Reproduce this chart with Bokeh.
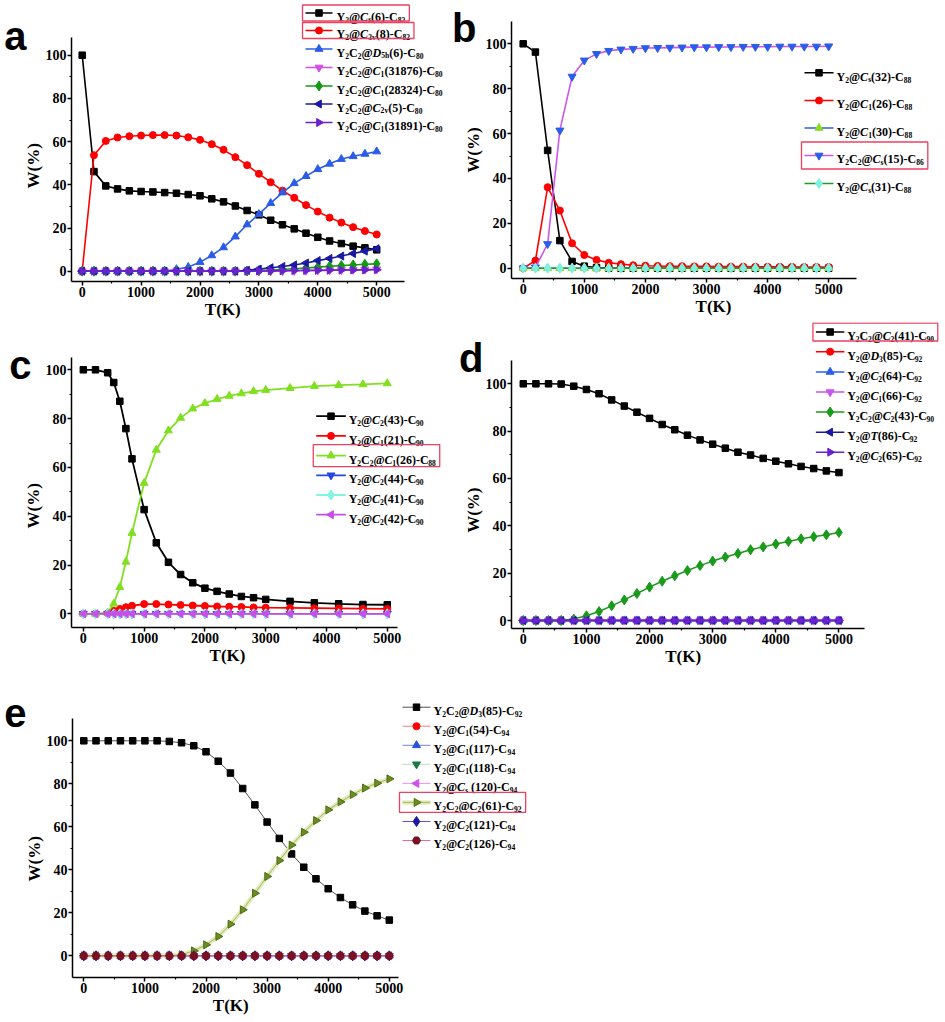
import math
from bokeh.plotting import figure
from bokeh.models import FixedTicker, Title, LinearAxis
from bokeh.layouts import column, row
from bokeh.embed import file_html
from bokeh.resources import INLINE
from bokeh.core.properties import value

SERIF = "Liberation Serif"
SANS = "Liberation Sans"

# ---------------- data ----------------
T26 = [0, 200, 400, 600, 800, 1000, 1200, 1400, 1600, 1800, 2000, 2200, 2400,
       2600, 2800, 3000, 3200, 3400, 3600, 3800, 4000, 4200, 4400, 4600, 4800, 5000]
T23 = [0, 200, 400, 500, 600, 700, 800, 1000, 1200, 1400, 1600, 1800, 2000, 2200,
       2400, 2600, 2800, 3000, 3400, 3800, 4200, 4600, 5000]
ZERO26 = [0, 0, 0, 0, 0, 0, 0, 0, 0, 0, 0, 0, 0, 0, 0, 0, 0, 0, 0, 0, 0, 0, 0, 0, 0, 0]
ZERO23 = [0, 0, 0, 0, 0, 0, 0, 0, 0, 0, 0, 0, 0, 0, 0, 0, 0, 0, 0, 0, 0, 0, 0]

TICK_T = [0, 1000, 2000, 3000, 4000, 5000]
MINOR_T = [500, 1500, 2500, 3500, 4500]
TICK_W = [0, 20, 40, 60, 80, 100]
MINOR_W = [10, 30, 50, 70, 90]
X_TITLE = "T(K)"
Y_TITLE = "W(%)"

# panel a
A_LABELS = ["Y_{2}@/C/_{s}(6)-C_{82}", "Y_{2}@/C/_{3v}(8)-C_{82}",
            "Y_{2}C_{2}@/D/_{5h}(6)-C_{80}", "Y_{2}C_{2}@/C/_{1}(31876)-C_{80}",
            "Y_{2}C_{2}@/C/_{1}(28324)-C_{80}", "Y_{2}C_{2}@/C/_{2v}(5)-C_{80}",
            "Y_{2}C_{2}@/C/_{1}(31891)-C_{80}"]
A_CS6 = [100, 46.1, 39.5, 38.1, 37.2, 36.9, 36.7, 36.4, 36.1, 35.5, 34.9, 33.5, 32.1,
         30.2, 28.1, 26.1, 23.6, 21.5, 19.6, 17.6, 15.7, 14.0, 12.8, 11.6, 10.8, 9.9]
A_C3V8 = [0, 53.7, 60.3, 61.9, 62.5, 62.8, 63.0, 63.0, 62.8, 62.0, 60.8, 58.8, 56.2,
          52.8, 49.1, 45.1, 41.2, 37.3, 34.0, 30.6, 27.6, 24.8, 22.5, 20.4, 18.6, 17.0]
A_D5H6 = [0, 0, 0, 0, 0, 0, 0, 0, 0.9, 1.9, 4.2, 7.3, 11.0,
          16.0, 21.6, 26.4, 31.5, 36.4, 40.7, 44.0, 47.2, 49.7, 51.9, 53.2, 54.3, 55.4]
A_C31876 = [0, 0, 0, 0, 0, 0, 0, 0, 0, 0, 0, 0, 0,
            0, 0, 0, 0, 0.1, 0.2, 0.3, 0.4, 0.5, 0.6, 0.7, 0.8, 0.9]
A_C28324 = [0, 0, 0, 0, 0, 0, 0, 0, 0, 0, 0, 0, 0,
            0, 0.1, 0.3, 0.5, 0.8, 1.1, 1.5, 1.9, 2.3, 2.6, 2.9, 3.2, 3.4]
A_C2V5 = [0, 0, 0, 0, 0, 0, 0, 0, 0, 0, 0, 0, 0,
          0, 0.4, 1.0, 1.6, 2.2, 2.9, 3.8, 4.9, 5.9, 7.0, 8.2, 9.3, 10.4]
A_C31891 = [0, 0, 0, 0, 0, 0, 0, 0, 0, 0, 0, 0, 0,
            0, 0, 0.1, 0.15, 0.2, 0.3, 0.35, 0.4, 0.45, 0.5, 0.55, 0.6, 0.65]

# panel b
B_LABELS = ["Y_{2}@/C/_{s}(32)-C_{88}", "Y_{2}@/C/_{1}(26)-C_{88}", "Y_{2}@/C/_{1}(30)-C_{88}",
            "Y_{2}C_{2}@/C/_{s}(15)-C_{86}", "Y_{2}@/C/_{s}(31)-C_{88}"]
B_CS32 = [100, 96.3, 52.5, 12.3, 3.0, 0.9, 0.3, 0.1, 0, 0, 0, 0, 0,
          0, 0, 0, 0, 0, 0, 0, 0, 0, 0, 0, 0, 0]
B_C1_26 = [0, 3.4, 36.1, 25.7, 11.1, 5.9, 3.7, 2.4, 1.8, 1.3, 1.1, 1.0, 0.9,
           0.9, 0.8, 0.8, 0.7, 0.7, 0.7, 0.6, 0.6, 0.6, 0.6, 0.5, 0.5, 0.5]
B_C1_30 = ZERO26
B_CS15 = [0, 0.4, 10.8, 61.4, 85.4, 92.6, 95.5, 96.9, 97.5, 97.8, 98.1, 98.2, 98.3,
          98.4, 98.5, 98.5, 98.6, 98.6, 98.7, 98.7, 98.7, 98.8, 98.8, 98.8, 98.8, 98.9]
B_CS31 = ZERO26

# panel c
C_LABELS = ["Y_{2}@/C/_{2}(43)-C_{90}", "Y_{2}@/C/_{1}(21)-C_{90}", "Y_{2}C_{2}@/C/_{1}(26)-C_{88}",
            "Y_{2}@/C/_{2}(44)-C_{90}", "Y_{2}@/C/_{2}(41)-C_{90}", "Y_{2}@/C/_{2}(42)-C_{90}"]
C_C2_43 = [100, 100, 98.8, 94.8, 87.1, 75.9, 63.5, 42.7, 29.1, 21.1, 16.1, 12.7,
           10.5, 9.2, 8.1, 7.1, 6.6, 5.9, 5.1, 4.5, 4.1, 3.8, 3.7]
C_C1_21 = [0, 0, 0.2, 1.2, 2.0, 2.7, 3.3, 4.0, 4.0, 3.8, 3.6, 3.4,
           3.2, 3.0, 2.9, 2.8, 2.6, 2.5, 2.4, 2.3, 2.2, 2.1, 2.0]
C_C1_26 = [0, 0, 0.5, 4.1, 10.9, 21.3, 33.1, 53.6, 67.2, 75.1, 80.3, 84.1,
           86.3, 88.0, 89.3, 90.3, 91.2, 91.7, 92.5, 93.3, 93.7, 94.0, 94.4]
C_C2_44 = ZERO23
C_C2_41 = ZERO23
C_C2_42 = ZERO23

# panel d
D_LABELS = ["Y_{2}C_{2}@/C/_{2}(41)-C_{90}", "Y_{2}@/D/_{3}(85)-C_{92}", "Y_{2}@/C/_{2}(64)-C_{92}",
            "Y_{2}@/C/_{1}(66)-C_{92}", "Y_{2}C_{2}@/C/_{2}(43)-C_{90}", "Y_{2}@/T/(86)-C_{92}",
            "Y_{2}@/C/_{2}(65)-C_{92}"]
D_C2_41 = [100, 100, 100, 99.9, 99.0, 97.6, 95.8, 93.2, 90.6, 88.0, 85.4, 82.8, 80.6,
           78.3, 76.3, 74.5, 72.8, 71.1, 69.9, 68.5, 67.3, 66.2, 65.1, 64.2, 63.2, 62.5]
D_D3_85 = ZERO26
D_C2_64 = ZERO26
D_C1_66 = ZERO26
D_C2_43 = [0, 0, 0, 0, 0.6, 2.0, 3.8, 6.2, 8.7, 11.4, 14.1, 16.6, 18.9,
           21.1, 23.2, 25.1, 26.8, 28.3, 29.9, 31.1, 32.3, 33.4, 34.5, 35.4, 36.2, 37.2]
D_T86 = ZERO26
D_C2_65 = ZERO26

# panel e
E_LABELS = ["Y_{2}C_{2}@/D/_{3}(85)-C_{92}", "Y_{2}@/C/_{1}(54)-C_{94}", "Y_{2}@/C/_{1}(117)-C_{94}",
            "Y_{2}@/C/_{1}(118)-C_{94}", "Y_{2}@/C/_{s} (120)-C_{94}", "Y_{2}C_{2}@/C/_{2}(61)-C_{92}",
            "Y_{2}@/C/_{2}(121)-C_{94}", "Y_{2}@/C/_{2}(126)-C_{94}"]
E_D3_85 = [100, 100, 100, 100, 100, 100, 100, 99.7, 99.1, 97.7, 94.9, 90.5, 85.0,
           77.8, 70.2, 62.2, 54.6, 47.4, 41.2, 35.8, 31.2, 27.1, 23.7, 20.8, 18.6, 16.6]
E_C1_54 = ZERO26
E_C1_117 = ZERO26
E_C1_118 = ZERO26
E_CS_120 = ZERO26
E_C2_61 = [0, 0, 0, 0, 0, 0, 0, 0, 0.5, 2.3, 5.1, 9.0, 14.7,
           21.4, 29.1, 36.9, 44.3, 51.5, 57.5, 62.9, 67.9, 71.6, 75.0, 78.0, 80.3, 82.3]
E_C2_121 = ZERO26
E_C2_126 = ZERO26

# ---------------- geometry (pixel positions in the page) ----------------
# letter=(tick value on W scale, label standoff), ylab/xlab = title centres in page px
GEOM = {
    "a": dict(fig=(0, 0, 445, 330), axl=70.7, axb=280.7, x0=81.7, xs=0.0589, y0=270.7, ys=2.16,
              xend=5480, ytop=108.2, letter=(109, -5), ylab=165, xlab=222),
    "b": dict(fig=(445, 0, 499, 322), axl=511, axb=278.5, x0=522.7, xs=0.0611, y0=267.7, ys=2.244,
              xend=5450, ytop=110, letter=(107, -15), ylab=150, xlab=713),
    "c": dict(fig=(0, 330, 445, 350), axl=66, axb=626.7, x0=78, xs=0.0616, y0=613.3, ys=2.44,
              xend=5170, ytop=105.2, letter=(102, -10), ylab=505, xlab=222),
    "d": dict(fig=(445, 322, 499, 358), axl=503.3, axb=628.3, x0=515, xs=0.0643, y0=620, ys=2.367,
              xend=5400, ytop=110, letter=(111, -22), ylab=510, xlab=675),
    "e": dict(fig=(0, 680, 560, 341), axl=71.7, axb=976.7, x0=83.3, xs=0.0611, y0=955.3, ys=2.15,
              xend=5150, ytop=110.2, letter=(113, -4), ylab=858, xlab=230),
}

MK = {"sq": ("square", 0.0, 6.5), "ci": ("circle", 0.0, 7), "tu": ("triangle", 0.0, 8),
      "td": ("inverted_triangle", 0.0, 8), "di": ("diamond", 0.0, 10),
      "tl": ("triangle", math.pi / 2, 8), "tr": ("triangle", -math.pi / 2, 8), "hx": ("hex", 0.0, 8)}

# Times/Liberation Serif Bold advance widths (1/1000 em)
W_B = {" ": 250, "(": 333, ")": 333, "-": 333, "@": 930, "C": 722, "D": 722, "T": 667,
       "Y": 722, "s": 389, "v": 500, "h": 556, "W": 1000, "%": 1000, "K": 778}
for _d in "0123456789":
    W_B[_d] = 500
W_BI = {"C": 667, "D": 722, "T": 611}
TITLE_PX = 17


def parse(lbl):
    segs, buf, i = [], "", 0
    while i < len(lbl):
        ch = lbl[i]
        if ch == "_" and i + 1 < len(lbl) and lbl[i + 1] == "{":
            if buf:
                segs.append((buf, "n"))
                buf = ""
            j = lbl.index("}", i)
            segs.append((lbl[i + 2:j], "s"))
            i = j + 1
            continue
        if ch == "/":
            if buf:
                segs.append((buf, "n"))
                buf = ""
            j = lbl.index("/", i + 1)
            segs.append((lbl[i + 1:j], "i"))
            i = j + 1
            continue
        buf += ch
        i += 1
    if buf:
        segs.append((buf, "n"))
    return segs


def seg_width(txt, kind, S, SUB):
    if kind == "i":
        return sum(W_BI.get(c, W_B.get(c, 600)) for c in txt) * S / 1000.0
    if kind == "s":
        return sum(W_B.get(c, 500) for c in txt) * SUB / 1000.0
    return sum(W_B.get(c, 600) for c in txt) * S / 1000.0


def make_panel(key, series, leg):
    g = GEOM[key]
    fx, fy, fw, fh = g["fig"]
    lb = int(round(g["axl"] - fx))
    bb = int(round(fy + fh - g["axb"]))
    x_start = (fx + lb - g["x0"]) / g["xs"]
    x_end = (fx + fw - g["x0"]) / g["xs"]
    y_start = (g["y0"] - (fy + fh - bb)) / g["ys"]
    y_end = (g["y0"] - fy) / g["ys"]

    def X(px):
        return (px - g["x0"]) / g["xs"]

    def Y(py):
        return (g["y0"] - py) / g["ys"]

    p = figure(width=fw, height=fh, x_range=(x_start, x_end), y_range=(y_start, y_end),
               output_backend="svg", toolbar_location=None, title_location=None,
               min_border_left=lb, min_border_bottom=bb, min_border_top=0, min_border_right=0)
    p.grid.visible = False
    p.outline_line_color = None
    xa, ya = p.xaxis[0], p.yaxis[0]
    xa.ticker = FixedTicker(ticks=TICK_T, minor_ticks=MINOR_T)
    ya.ticker = FixedTicker(ticks=TICK_W, minor_ticks=MINOR_W)
    xa.bounds = (x_start, g["xend"])
    ya.bounds = (y_start, g["ytop"])
    for ax in (xa, ya):
        ax.axis_line_width = 1.5
        ax.axis_line_color = "black"
        ax.major_tick_line_width = 1.5
        ax.major_tick_line_color = "black"
        ax.major_tick_out = 4
        ax.major_tick_in = 0
        ax.minor_tick_line_width = 1.2
        ax.minor_tick_line_color = "black"
        ax.minor_tick_out = 2
        ax.minor_tick_in = 0
        ax.major_label_text_font = SERIF
        ax.major_label_text_font_style = "bold"
        ax.major_label_text_font_size = "14px"
        ax.major_label_text_color = "black"
        ax.major_label_standoff = 1

    # axis titles, offset along the frame to where the reference has them
    x_len = seg_width(X_TITLE, "n", TITLE_PX, TITLE_PX)
    y_len = seg_width(Y_TITLE, "n", TITLE_PX, TITLE_PX)
    p.add_layout(Title(text=Y_TITLE, align="left", vertical_align="bottom", standoff=0,
                       offset=g["axb"] - (g["ylab"] + y_len / 2),
                       text_font=SERIF, text_font_style="bold",
                       text_font_size="%dpx" % TITLE_PX, text_color="black"), "left")
    p.add_layout(Title(text=X_TITLE, align="left", vertical_align="top", standoff=0,
                       offset=(g["xlab"] - x_len / 2) - g["axl"],
                       text_font=SERIF, text_font_style="bold",
                       text_font_size="%dpx" % TITLE_PX, text_color="black"), "below")

    # panel letter, carried by an outer left axis without line or ticks
    lt, lso = g["letter"]
    la = LinearAxis(ticker=FixedTicker(ticks=[lt]), major_label_overrides={lt: key},
                    axis_line_color=None, major_tick_line_color=None, minor_tick_line_color=None,
                    major_tick_out=0, major_tick_in=0, major_label_standoff=lso,
                    major_label_orientation="horizontal",
                    major_label_text_font=SANS, major_label_text_font_style="bold",
                    major_label_text_font_size="40px", major_label_text_color="black")
    p.add_layout(la, "left")

    # data series
    for s in series:
        mk, ang, msz = MK[s["mk"]]
        if s.get("halo"):
            p.line(s["t"], s["w"], line_color=s["halo"], line_width=4.5)
        p.line(s["t"], s["w"], line_color=s["lc"], line_width=s["lw"],
               line_dash=s.get("dash", "solid"))
        p.scatter(s["t"], s["w"], marker=mk, size=msz, angle=ang,
                  fill_color=s["mc"], line_color=s.get("mo", s["mc"]))

    # legend (drawn with the same styles)
    S = leg["S"]
    SUB = round(S * 0.63, 1)
    groups = {"n": ([], [], []), "i": ([], [], []), "s": ([], [], [])}
    box_l, box_r, box_t, box_b = [], [], [], []
    for k, (lbl, s) in enumerate(zip(leg["labels"], series)):
        ry = leg["rows"][k]
        mk, ang, msz = MK[s["mk"]]
        lx0, lx1 = leg["lx0"], leg["lx1"]
        if s.get("halo"):
            p.line([X(lx0), X(lx1)], [Y(ry), Y(ry)], line_color=s["halo"], line_width=4.5)
        p.line([X(lx0), X(lx1)], [Y(ry), Y(ry)], line_color=s["lc"], line_width=s["lw"],
               line_dash=s.get("dash", "solid"))
        p.scatter([X((lx0 + lx1) / 2)], [Y(ry)], marker=mk, size=msz, angle=ang,
                  fill_color=s["mc"], line_color=s.get("mo", s["mc"]))
        cx = leg["tx"]
        base = ry + 0.33 * S
        for txt, kind in parse(lbl):
            lead = len(txt) - len(txt.lstrip(" "))
            if lead:
                cx += seg_width(" " * lead, kind, S, SUB)
                txt = txt.lstrip(" ")
            yy = base + (0.25 * S if kind == "s" else 0)
            gx, gy, gt = groups[kind]
            gx.append(X(cx))
            gy.append(Y(yy))
            gt.append(txt)
            cx += seg_width(txt, kind, S, SUB)
        if k in leg["boxed"]:
            h = leg["boxh"]
            box_l.append(X(lx0 - 3))
            box_r.append(X(cx + 4))
            box_t.append(Y(ry - h / 2))
            box_b.append(Y(ry + h / 2))
    for kind, (gx, gy, gt) in groups.items():
        if not gt:
            continue
        p.text(x=gx, y=gy, text=gt, text_font=value(SERIF),
               text_font_style=("bold italic" if kind == "i" else "bold"),
               text_font_size=("%gpx" % (SUB if kind == "s" else S)),
               text_color="black", text_align="left", text_baseline="alphabetic")
    if box_l:
        p.quad(left=box_l, right=box_r, top=box_t, bottom=box_b, fill_color=None,
               line_color="#ee4060", line_width=1.3)
    return p


def ser(t, w, lc, mk, mc=None, lw=1.6, **kw):
    d = dict(t=t, w=w, lc=lc, mk=mk, mc=(mc or lc), lw=lw)
    d.update(kw)
    return d


pa = make_panel("a", [
    ser(T26, A_CS6, "#000000", "sq"),
    ser(T26, A_C3V8, "#ff0000", "ci"),
    ser(T26, A_D5H6, "#2a5ce8", "tu"),
    ser(T26, A_C31876, "#d050e8", "td"),
    ser(T26, A_C28324, "#139a13", "di"),
    ser(T26, A_C2V5, "#1a1aa0", "tl"),
    ser(T26, A_C31891, "#6a22cc", "tr"),
], dict(labels=A_LABELS, rows=[12.5, 30, 48.5, 67, 85.5, 103.5, 122],
        lx0=305, lx1=332, tx=336, S=12, boxed=[0, 1], boxh=16))

pb = make_panel("b", [
    ser(T26, B_CS32, "#000000", "sq"),
    ser(T26, B_C1_26, "#ff0000", "ci"),
    ser(T26, B_C1_30, "#2a5ce8", "tu", "#88dd22"),
    ser(T26, B_CS15, "#cc55ee", "td", "#2a5ce8"),
    ser(T26, B_CS31, "#1a9a2a", "di", "#7ff0e0"),
], dict(labels=B_LABELS, rows=[72.3, 100, 127.5, 155, 183],
        lx0=804, lx1=833, tx=836, S=12, boxed=[3], boxh=27))

pc = make_panel("c", [
    ser(T23, C_C2_43, "#000000", "sq", lw=1.8),
    ser(T23, C_C1_21, "#ff0000", "ci", lw=1.8),
    ser(T23, C_C1_26, "#80e020", "tu", lw=1.8),
    ser(T23, C_C2_44, "#2548e0", "td", lw=1.8),
    ser(T23, C_C2_41, "#80f5e0", "di", lw=1.8),
    ser(T23, C_C2_42, "#c84ee8", "tl", lw=1.8),
], dict(labels=C_LABELS, rows=[415.7, 435.4, 455.1, 474.8, 494.5, 514.2],
        lx0=314, lx1=344, tx=347, S=12, boxed=[2], boxh=22))

pd_ = make_panel("d", [
    ser(T26, D_C2_41, "#000000", "sq", lw=1.5),
    ser(T26, D_D3_85, "#ff0000", "ci", lw=1.5),
    ser(T26, D_C2_64, "#2a5ce8", "tu", lw=1.5),
    ser(T26, D_C1_66, "#c855ee", "td", lw=1.5),
    ser(T26, D_C2_43, "#1a9a1a", "di", lw=1.5),
    ser(T26, D_T86, "#1a1aa0", "tl", lw=1.5),
    ser(T26, D_C2_65, "#6a22cc", "tr", lw=1.5),
], dict(labels=D_LABELS, rows=[331.5, 351.2, 371.4, 391.6, 411.5, 431.7, 451.7],
        lx0=813, lx1=842, tx=845, S=12, boxed=[0], boxh=18))

pe = make_panel("e", [
    ser(T26, E_D3_85, "#505050", "sq", "#000000", lw=1.0),
    ser(T26, E_C1_54, "#f08080", "ci", "#ff0000", lw=1.0),
    ser(T26, E_C1_117, "#7080e8", "tu", "#2a50e0", lw=1.0),
    ser(T26, E_C1_118, "#70c070", "td", "#1e7a40", lw=1.0, dash="1 1"),
    ser(T26, E_CS_120, "#f090e8", "tl", "#d050e8", lw=1.0),
    ser(T26, E_C2_61, "#a8b860", "tr", "#6b8e23", lw=1.0, halo="#e2ebbb", mo="#4d6a14"),
    ser(T26, E_C2_121, "#6a50d0", "di", "#1a1aa0", lw=1.0),
    ser(T26, E_C2_126, "#e07090", "hx", "#7a1020", lw=1.0),
], dict(labels=E_LABELS, rows=[706.7, 725.7, 744.8, 763.8, 782.9, 801.9, 821.0, 840.0],
        lx0=402, lx1=430, tx=433, S=12, boxed=[5], boxh=20))

layout = column(row(column(pa, pc), column(pb, pd_)), pe)

open("out.html", "w").write(file_html(layout, INLINE))
